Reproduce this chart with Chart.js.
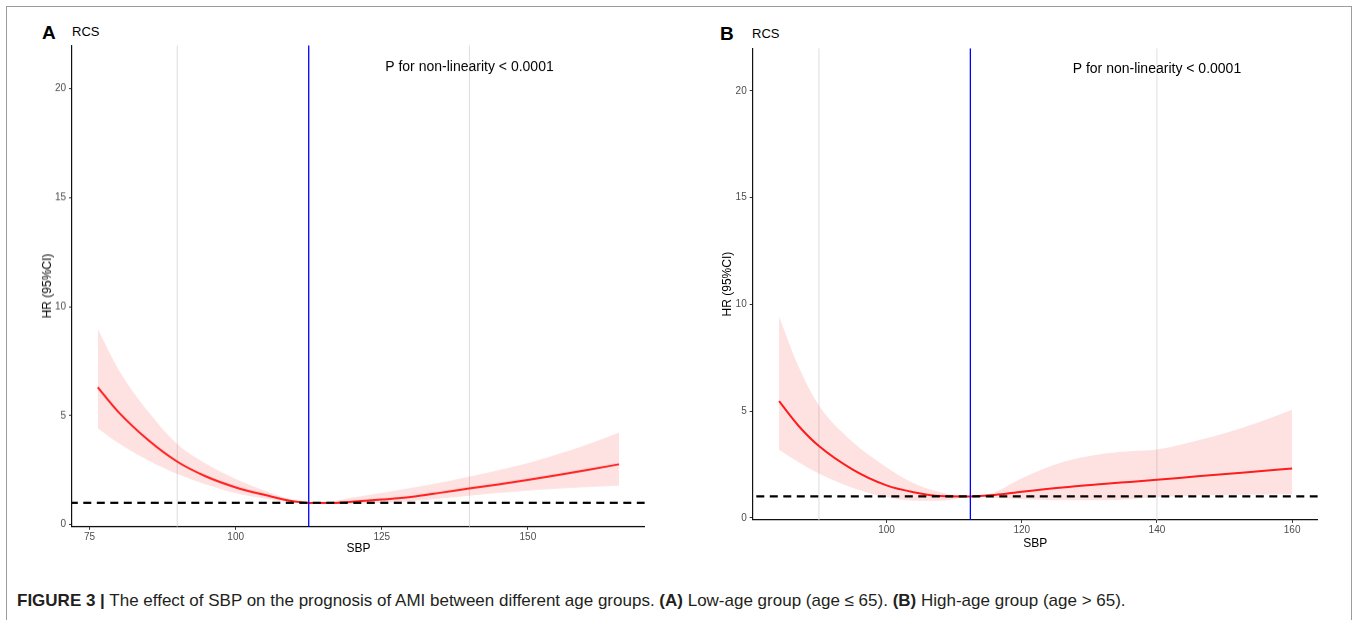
<!DOCTYPE html>
<html>
<head>
<meta charset="utf-8">
<title>RCS - SBP by age group</title>
<script src="https://cdn.jsdelivr.net/npm/chart.js@4.4.1/dist/chart.umd.min.js"></script>
<style>
  body { margin: 0; background: #fff; font-family: "Liberation Sans", Arial, sans-serif; }
  #page { position: relative; width: 1360px; height: 620px; overflow: hidden; background: #fff; }
  .frame { position: absolute; left: 6px; top: 6px; width: 1344px; height: 700px; border: 1.5px solid #9c9c9c; }
  .box { position: absolute; }
  .tag { position: absolute; font-weight: bold; font-size: 19px; line-height: 1; color: #000; }
  .sub { position: absolute; font-size: 13px; line-height: 1; color: #000; }
  #caption { position: absolute; left: 17px; top: 592px; font-size: 17px; line-height: 1; color: #231f20; white-space: nowrap; }
</style>
</head>
<body>
<div id="page">
  <div class="frame"></div>

  <div class="tag" style="left:42px; top:23px;">A</div>
  <div class="sub" style="left:72px; top:25px;">RCS</div>
  <div class="box" style="left:37px; top:44.4px; width:609px; height:513.8px;"><canvas id="chartA"></canvas></div>

  <div class="tag" style="left:720px; top:24px;">B</div>
  <div class="sub" style="left:752px; top:27px;">RCS</div>
  <div class="box" style="left:717px; top:46.5px; width:602px; height:506.9px;"><canvas id="chartB"></canvas></div>

  <div id="caption"><b>FIGURE 3 |</b> The effect of SBP on the prognosis of AMI between different age groups. <b>(A)</b> Low-age group (age ≤ 65). <b>(B)</b> High-age group (age &gt; 65).</div>
</div>

<script>
// ---- shared bits ----
const yTicks = [0, 5, 10, 15, 20];
const yMin = -0.1;
const yMax = 22;
const refHR = 1;
const guideSbp = [90, 140];
const noteText = 'P for non-linearity < 0.0001';
const noteX = 140;
const noteY = 21;

// ---- panel A: low-age group (age <= 65) ----
const sbpA = [76.4, 80, 85, 90, 95, 100, 105, 110, 112.5, 116, 120, 125, 130, 135, 140, 145, 150, 155, 160, 165.6];
const hrA  = [6.30, 5.15, 3.89, 2.89, 2.20, 1.71, 1.36, 1.06, 1.00, 0.99, 1.05, 1.15, 1.27, 1.46, 1.66, 1.85, 2.05, 2.27, 2.50, 2.77];
const loA  = [4.42, 3.73, 2.95, 2.33, 1.83, 1.44, 1.20, 1.01, 1.00, 0.95, 0.96, 1.00, 1.07, 1.20, 1.33, 1.45, 1.56, 1.65, 1.72, 1.79];
const hiA  = [8.98, 7.10, 5.20, 3.70, 2.79, 2.10, 1.56, 1.12, 1.00, 1.06, 1.25, 1.46, 1.68, 1.93, 2.20, 2.50, 2.82, 3.22, 3.66, 4.23];
const xTicksA = [75, 100, 125, 150];
const refA = 112.5;

// ---- panel B: high-age group (age > 65) ----
const sbpB = [84.1, 87, 90, 95, 100, 104, 108, 112.4, 116, 120, 126, 132, 136, 140, 146, 153, 160];
const hrB  = [5.46, 4.30, 3.36, 2.26, 1.52, 1.20, 1.02, 1.00, 1.07, 1.22, 1.42, 1.58, 1.68, 1.78, 1.94, 2.12, 2.31];
const loB  = [3.19, 2.60, 2.07, 1.40, 0.97, 0.80, 0.80, 1.00, 0.93, 0.88, 0.82, 0.82, 0.87, 0.97, 1.05, 1.08, 1.10];
const hiB  = [9.42, 7.07, 5.26, 3.55, 2.37, 1.62, 1.20, 1.00, 1.20, 1.85, 2.60, 3.00, 3.12, 3.20, 3.62, 4.25, 5.06];
const xTicksB = [100, 120, 140, 160];
const refB = 112.4;

const FONT = '"Liberation Sans", Arial, sans-serif';

function zip(xs, ys) {
    return xs.map((x, i) => ({ x: x, y: ys[i] }));
}

const notePlugin = {
    id: 'note',
    afterDatasetsDraw(chart) {
        const { ctx, scales: { x, y } } = chart;
        ctx.save();
        ctx.font = '14px ' + FONT;
        ctx.fillStyle = '#000';
        ctx.textAlign = 'center';
        ctx.textBaseline = 'middle';
        ctx.fillText(noteText, x.getPixelForValue(noteX), y.getPixelForValue(noteY));
        ctx.restore();
    }
};

function buildChart(id, d) {
    const vline = (xv, color, w) => ({
        data: [{ x: xv, y: yMin }, { x: xv, y: yMax }],
        borderColor: color, borderWidth: w
    });

    const datasets = [
        vline(d.ref, '#0000ff', 1.3),
        { data: [{ x: d.xMax, y: refHR }, { x: d.xMin, y: refHR }], borderColor: '#000', borderWidth: 2.4, borderDash: [8, 5.5] },
        { data: zip(d.sbp, d.hr), borderColor: '#ff1c1c', borderWidth: 2, cubicInterpolationMode: 'monotone' },
        { data: zip(d.sbp, d.hi), borderColor: 'transparent', borderWidth: 0, fill: '+1', backgroundColor: 'rgba(245, 20, 20, 0.12)', cubicInterpolationMode: 'monotone' },
        { data: zip(d.sbp, d.lo), borderColor: 'transparent', borderWidth: 0, cubicInterpolationMode: 'monotone' }
    ];
    guideSbp.forEach(g => datasets.push(vline(g, '#dedede', 1)));

    return new Chart(document.getElementById(id), {
        type: 'line',
        data: { datasets: datasets },
        plugins: [notePlugin],
        options: {
            responsive: true,
            maintainAspectRatio: false,
            animation: false,
            layout: { padding: 0 },
            elements: { point: { radius: 0 }, line: { tension: 0 } },
            plugins: { legend: { display: false }, tooltip: { enabled: false } },
            scales: {
                x: {
                    type: 'linear',
                    min: d.xMin, max: d.xMax,
                    afterBuildTicks: s => { s.ticks = d.xTicks.map(v => ({ value: v })); },
                    afterFit: s => { s.height = d.xAxisH; s.paddingLeft = 0; s.paddingRight = 0; },
                    border: { display: true, color: '#111', width: 1.2 },
                    grid: { drawOnChartArea: false, drawTicks: true, tickLength: 3, color: '#333' },
                    ticks: { color: '#4d4d4d', font: { family: FONT, size: 10 }, padding: 1, maxRotation: 0 },
                    title: { display: true, text: 'SBP', color: '#000', font: { family: FONT, size: 12 }, padding: { top: 0, bottom: 3 } }
                },
                y: {
                    type: 'linear',
                    min: yMin, max: yMax,
                    afterBuildTicks: s => { s.ticks = yTicks.map(v => ({ value: v })); },
                    afterFit: s => { s.width = d.yAxisW; s.paddingTop = 0; s.paddingBottom = 0; },
                    border: { display: true, color: '#111', width: 1.2 },
                    grid: { drawOnChartArea: false, drawTicks: true, tickLength: 3, color: '#333' },
                    ticks: { color: '#4d4d4d', font: { family: FONT, size: 10 }, padding: 3 },
                    title: { display: true, text: 'HR (95%CI)', color: '#000', font: { family: FONT, size: 12 }, padding: { top: d.yTitlePad, bottom: 0 } }
                }
            }
        }
    });
}

buildChart('chartA', {
    sbp: sbpA, hr: hrA, lo: loA, hi: hiA, ref: refA,
    xMin: 72.0, xMax: 170.0, xTicks: xTicksA, yAxisW: 35, xAxisH: 32, yTitlePad: 3
});

buildChart('chartB', {
    sbp: sbpB, hr: hrB, lo: loB, hi: hiB, ref: refB,
    xMin: 80.2, xMax: 163.8, xTicks: xTicksB, yAxisW: 35.7, xAxisH: 34, yTitlePad: 3
});
</script>
</body>
</html>
